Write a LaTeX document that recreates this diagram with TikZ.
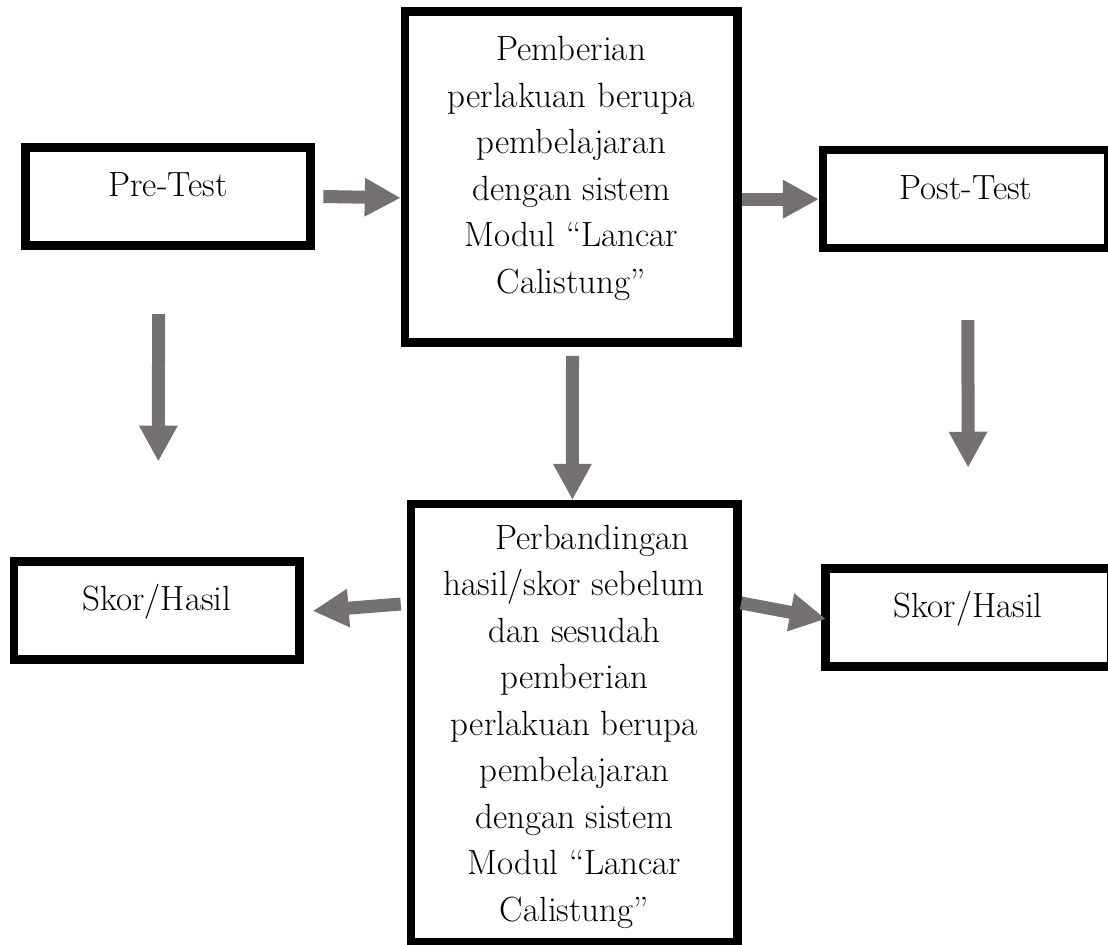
\documentclass[tikz,border=0pt]{standalone}
\usepackage{xcolor}
\usepackage{tikz}
\usetikzlibrary{arrows.meta}
\definecolor{arrow_gray}{RGB}{118,113,113}

\tikzset{
  flow_box/.style = {draw, line width=4.25pt, line join=miter, inner sep=0pt,
                     font=\fontsize{17.5}{23.25}\selectfont},
  single_box/.style = {flow_box, minimum width=142.7pt, minimum height=49pt,
                       text height=6pt, text depth=6pt},
  box_text/.style = {align=center, inner sep=0pt, font=\fontsize{17.5}{23.25}\selectfont},
  flow_arrow/.style = {arrow_gray, line width=6.5pt, -{Triangle[width=18pt, length=18pt]}}
}

\begin{document}
\begin{tikzpicture}[x=0.5pt, y=-0.5pt]
      \useasboundingbox (0,0) rectangle (1108,945);
      \clip (0,0) rectangle (1108,945);

      % boxes
      \node[single_box] (pre) at (168,196.5) {Pre-Test};
      \node[flow_box, minimum width=166.2pt, minimum height=165.5pt] (treat) at (571.2,177.2) {};
      \node[single_box] (post) at (965.9,199.2) {Post-Test};
      \node[single_box] (skor_left) at (156.7,610.7) {Skor/Hasil};
      \node[flow_box, minimum width=163.2pt, minimum height=219.2pt] (compare) at (574.4,723.4) {};
      \node[single_box] (skor_right) at (968.1,617.5) {Skor/Hasil};

      \node[box_text] (treat_text) at ([yshift=4.3pt]treat.center)
        {Pemberian\\perlakuan berupa\\pembelajaran\\dengan sistem\\Modul “Lancar\\Calistung”};
      \node[box_text] (compare_text) at ([yshift=-1.6pt]compare.center)
        {\hspace*{18pt}Perbandingan\\hasil/skor sebelum\\dan sesudah\\pemberian\\perlakuan berupa\\pembelajaran\\dengan sistem\\Modul “Lancar\\Calistung”};

      % arrows
      \draw[flow_arrow] ([xshift=4.2pt]pre.east) -- ([yshift=-0.7pt]pre.east -| treat.west);
      \draw[flow_arrow] (treat.east |- post.west) -- (post.west);
      \draw[flow_arrow] ([xshift=-4.7pt, yshift=-32.2pt]pre.south) -- ([xshift=0.8pt, yshift=47.9pt]skor_left.north);
      \draw[flow_arrow] ([xshift=0.65pt, yshift=-4.5pt]treat.south) -- ([xshift=-1pt]compare.north);
      \draw[flow_arrow] ([xshift=1pt, yshift=-33.8pt]post.south) -- ([yshift=48.25pt]skor_right.north);
      \draw[flow_arrow] ([xshift=-3.1pt, yshift=59.7pt]compare.west) -- ([xshift=4.5pt, yshift=-0.15pt]skor_left.east);
      \draw[flow_arrow] ([xshift=-0.4pt, yshift=60.2pt]compare.east) -- ([xshift=2.4pt, yshift=-0.75pt]skor_right.west);
    \end{tikzpicture}
\end{document}
